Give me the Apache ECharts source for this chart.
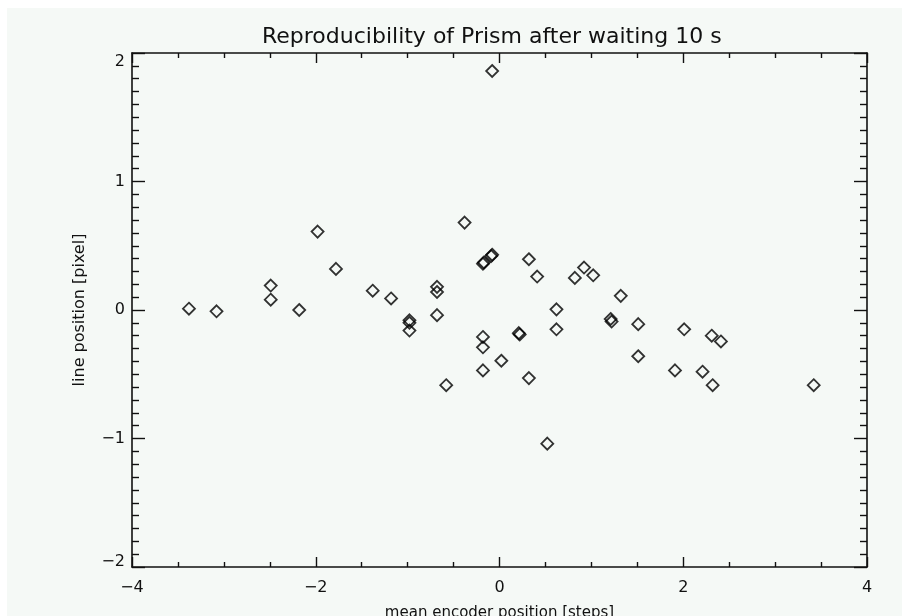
<!DOCTYPE html>
<html>
<head>
<meta charset="utf-8">
<script src="https://cdn.jsdelivr.net/npm/echarts@6/dist/echarts.min.js"></script>
<style>
html,body{margin:0;padding:0;background:#ffffff;width:902px;height:616px;overflow:hidden;}
#c{position:absolute;left:7px;top:8px;width:895px;height:608px;background:#f5f9f6;}
</style>
</head>
<body>
<div id="c"></div>
<script>
const titleText = 'Reproducibility of Prism after waiting 10 s';
const xName = 'mean encoder position [steps]';
const yName = 'line position [pixel]';

const xValues = [-3.38,-3.08,-2.49,-2.49,-2.18,-1.98,-1.78,-1.38,-1.18,-0.98,-0.98,-0.98,-0.68,-0.68,-0.68,-0.58,-0.38,-0.18,-0.17,-0.09,-0.08,-0.08,-0.18,-0.18,-0.18,0.02,0.21,0.22,0.32,0.32,0.41,0.52,0.62,0.62,0.82,0.92,1.02,1.21,1.22,1.32,1.51,1.51,1.91,2.01,2.21,2.31,2.32,2.41,3.42];
const yValues = [0.01,-0.01,0.19,0.08,0.00,0.61,0.32,0.15,0.09,-0.08,-0.10,-0.16,0.18,0.14,-0.04,-0.585,0.68,0.36,0.37,0.42,0.43,1.86,-0.21,-0.29,-0.47,-0.395,-0.18,-0.19,0.395,-0.53,0.26,-1.04,0.005,-0.15,0.25,0.33,0.27,-0.07,-0.09,0.11,-0.11,-0.36,-0.47,-0.15,-0.48,-0.20,-0.585,-0.245,-0.585];

const points = xValues.map((x, i) => [x, yValues[i]]);

const FONT = 'DejaVu Sans';
const INK = '#111';
const fmtNum = v => (v < 0 ? '\u2212' + Math.abs(v) : String(v));

const chart = echarts.init(document.getElementById('c'), null, {renderer: 'canvas'});
const baseX = {
  type: 'value', min: -4, max: 4, interval: 2,
  axisLine: {show: true, onZero: false, lineStyle: {color: INK, width: 1.6}},
  axisTick: {show: true, inside: true, length: 10, lineStyle: {color: INK, width: 1.4}},
  minorTick: {show: true, splitNumber: 4, length: 5, lineStyle: {color: INK, width: 1.4}},
  splitLine: {show: false},
  minorSplitLine: {show: false}
};
const baseY = {
  type: 'value', min: -2, max: 2, interval: 1,
  axisLine: {show: true, onZero: false, lineStyle: {color: INK, width: 1.6}},
  axisTick: {show: true, inside: true, length: 13, lineStyle: {color: INK, width: 1.4}},
  minorTick: {show: true, splitNumber: 10, length: 7, lineStyle: {color: INK, width: 1.4}},
  splitLine: {show: false},
  minorSplitLine: {show: false}
};

chart.setOption({
  animation: false,
  backgroundColor: 'transparent',
  title: {
    text: titleText,
    left: 250, top: 13,
    textStyle: {fontFamily: FONT, fontSize: 22, fontWeight: 'normal', color: INK}
  },
  grid: {left: 125, right: 35, top: 45, bottom: 49, containLabel: false, outerBoundsMode: 'none'},
  xAxis: [
    Object.assign({}, baseX, {
      position: 'bottom',
      name: xName, nameLocation: 'middle', nameGap: 39,
      nameTextStyle: {fontFamily: FONT, fontSize: 15, color: INK},
      axisLabel: {show: true, margin: 13, fontFamily: FONT, fontSize: 16, color: INK,
        formatter: fmtNum}
    }),
    Object.assign({}, baseX, {position: 'top', axisLabel: {show: false}})
  ],
  yAxis: [
    Object.assign({}, baseY, {
      position: 'left',
      name: yName, nameLocation: 'middle', nameGap: 44,
      nameTextStyle: {fontFamily: FONT, fontSize: 16, color: INK},
      axisLabel: {show: true, margin: 7, fontFamily: FONT, fontSize: 16, color: INK,
        formatter: v => {
          if (v === 2) return '{hi|' + fmtNum(v) + '}';
          if (v === -2) return '{lo|' + fmtNum(v) + '}';
          return fmtNum(v);
        },
        rich: {
          hi: {fontFamily: FONT, fontSize: 16, color: INK, padding: [18, 0, 0, 0]},
          lo: {fontFamily: FONT, fontSize: 16, color: INK, padding: [0, 0, 10, 0]}
        }}
    }),
    Object.assign({}, baseY, {position: 'right', axisLabel: {show: false}})
  ],
  series: [{
    type: 'scatter',
    xAxisIndex: 0, yAxisIndex: 0,
    data: points,
    symbol: 'diamond',
    symbolSize: 12,
    itemStyle: {color: 'rgba(0,0,0,0)', borderColor: '#000', borderWidth: 1.8},
    emphasis: {disabled: true}
  }]
});
</script>
</body>
</html>
